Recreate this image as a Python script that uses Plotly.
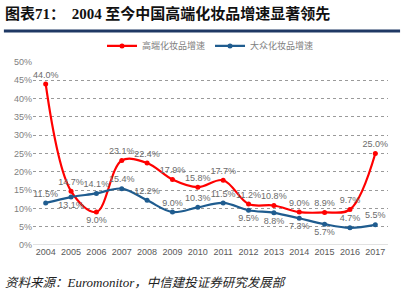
import plotly.graph_objects as go

years = ["2004","2005","2006","2007","2008","2009","2010","2011","2012","2013","2014","2015","2016","2017"]
high_end = [44.0, 14.7, 9.0, 23.1, 22.4, 17.9, 15.8, 17.7, 11.2, 10.8, 9.0, 8.9, 9.7, 25.0]
mass = [11.5, 13.1, 14.1, 15.4, 12.2, 9.0, 10.3, 11.5, 9.5, 8.8, 7.3, 5.7, 4.7, 5.5]
high_pos = ["top center","top center","bottom center","top center","top center","top center","top center",
            "top center","top center","top center","top center","top center","top center","top center"]
mass_pos = ["top center","bottom center","top center","top center","top center","top center","top center",
            "top center","bottom center","bottom center","bottom center","bottom center","top center","top center"]
y_ticks = [0, 5, 10, 15, 20, 25, 30, 35, 40, 45, 50]

xs = list(range(len(years)))
lblfont = dict(family="Liberation Sans, Arial", size=9, color="#6b6b6b")

fig = go.Figure()
fig.add_trace(go.Scatter(
    x=xs, y=[v/100 for v in high_end], name="高端化妆品增速",
    mode="lines+markers+text", line=dict(color="#ff0000", width=2.2, shape="spline", smoothing=1.0),
    marker=dict(size=5, color="#ff0000"),
    text=[f"{v:.1f}%" for v in high_end], textposition=high_pos, textfont=lblfont,
    cliponaxis=False))
fig.add_trace(go.Scatter(
    x=xs, y=[v/100 for v in mass], name="大众化妆品增速",
    mode="lines+markers+text", line=dict(color="#1f5c8f", width=2.2, shape="spline", smoothing=1.0),
    marker=dict(size=5, color="#1f5c8f"),
    text=[f"{v:.1f}%" for v in mass], textposition=mass_pos, textfont=lblfont,
    cliponaxis=False))

fig.update_layout(
    width=403, height=291,
    margin=dict(l=33, r=15, t=62, b=46),
    paper_bgcolor="white", plot_bgcolor="white",
    showlegend=True,
    legend=dict(orientation="h", x=0.5, xanchor="center", y=1.088, yanchor="middle",
                font=dict(family="Noto Sans CJK SC", size=9, color="#808080"),
                tracegroupgap=0, bgcolor="rgba(0,0,0,0)"),
    xaxis=dict(range=[-0.5, 13.5], tickvals=xs, ticktext=years, showgrid=False,
               showline=False, zeroline=False, ticks="",
               tickfont=dict(family="Liberation Sans, Arial", size=9, color="#595959")),
    yaxis=dict(range=[0, 0.5], tickvals=[t/100 for t in y_ticks],
               ticktext=[f"{t}%" for t in y_ticks],
               showgrid=True, gridcolor="#9a9a9a", griddash="dot", gridwidth=1,
               zeroline=False, showline=False, ticks="",
               tickfont=dict(family="Liberation Sans, Arial", size=9, color="#7f7f7f")),
    font=dict(family="Noto Sans CJK SC"),
)
# 0% baseline
fig.add_shape(type="line", xref="paper", yref="y", x0=0, x1=1, y0=0, y1=0,
              line=dict(color="#d9d9d9", width=1.5))
# title rule
fig.add_shape(type="line", xref="paper", yref="paper", x0=-0.082, x1=1.034, y0=1.17, y1=1.17,
              line=dict(color="#1f3864", width=3))
fig.add_annotation(
    xref="paper", yref="paper", x=-0.085, y=1.2, xanchor="left", yanchor="bottom",
    text="<b>图表<span style='font-family:Liberation Serif'>71</span>：  <span style='font-family:Liberation Serif'>2004</span> 至今中国高端化妆品增速显著领先</b>",
    showarrow=False, font=dict(family="Noto Sans CJK SC", size=15, color="#111111"))
fig.add_annotation(
    xref="paper", yref="paper", x=-0.085, y=-0.198, xanchor="left", yanchor="middle",
    text="<i>资料来源：<span style='font-family:Liberation Serif; font-size:13px'>Euromonitor</span>，中信建投证券研究发展部</i>",
    showarrow=False, font=dict(family="Noto Sans CJK SC", size=12.5, color="#222222"))

fig.write_html("out.html")
